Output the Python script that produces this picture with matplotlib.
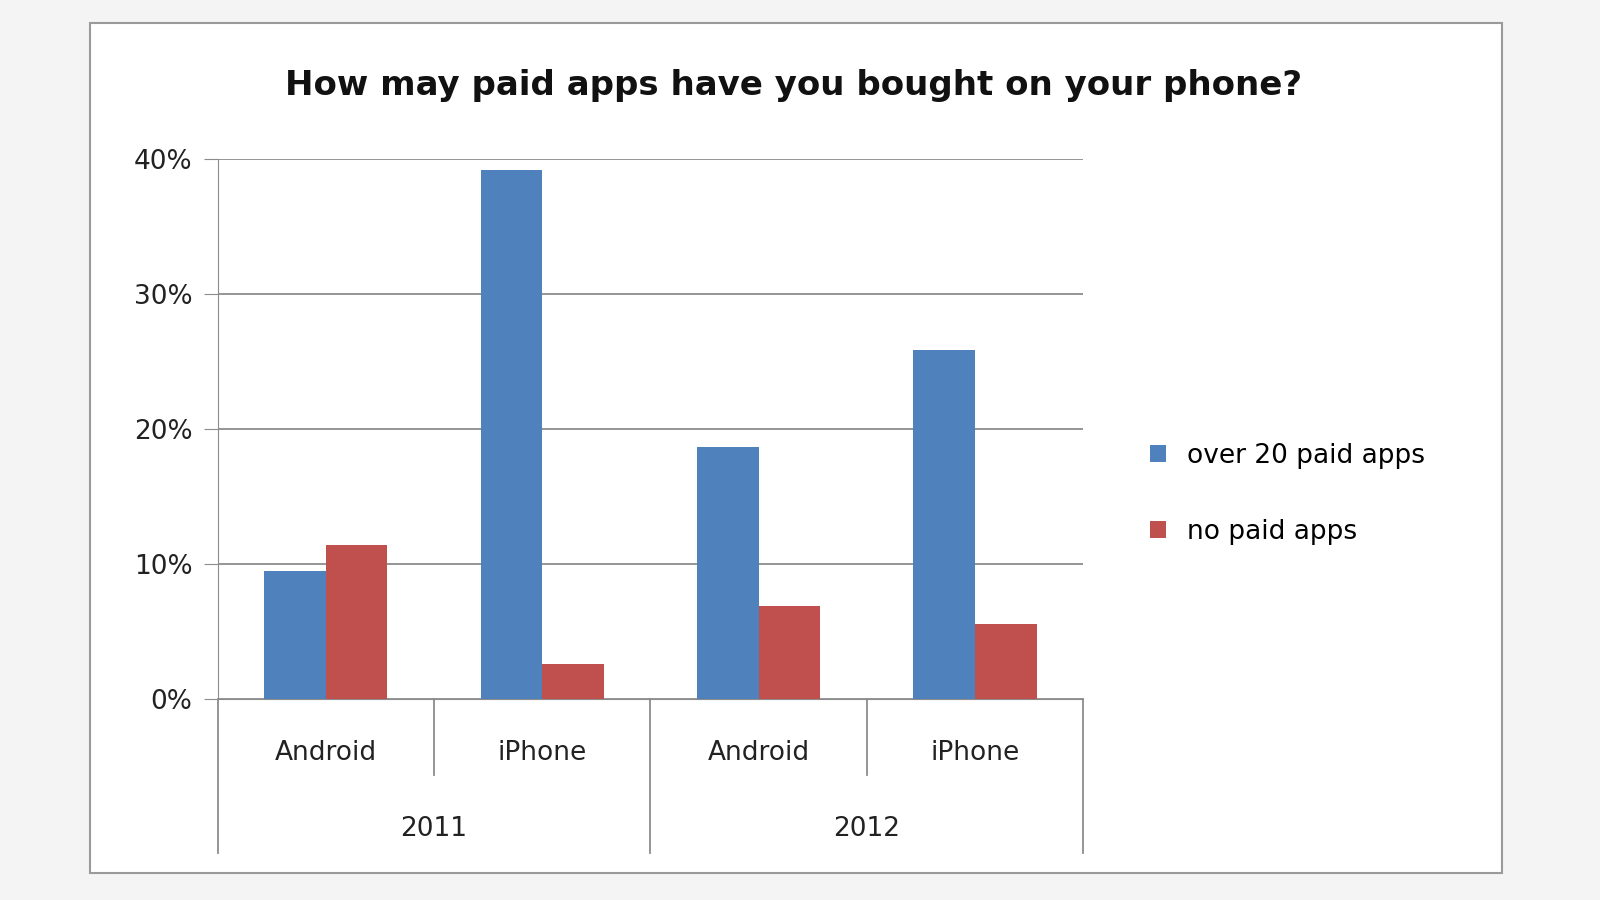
import matplotlib.pyplot as plt
from matplotlib.patches import Rectangle
import numpy as np

platforms = ['Android', 'iPhone', 'Android', 'iPhone']
years = ['2011', '2012']
over20 = [9.5, 39.2, 18.7, 25.9]
nopaid = [11.4, 2.6, 6.9, 5.6]
series_names = ['over 20 paid apps', 'no paid apps']
colors = ['#4F81BD', '#C0504D']

plt.rcParams['font.family'] = 'DejaVu Sans'
fig = plt.figure(figsize=(16, 9), dpi=100)
fig.patch.set_facecolor('#f4f4f4')

# chart box (behind the axes)
fig.add_artist(Rectangle((0.056, 0.03), 0.883, 0.945, transform=fig.transFigure,
                         facecolor='white', edgecolor='#9a9a9a', linewidth=1.5, zorder=-5))

ax = fig.add_axes([0.136, 0.223, 0.541, 0.6])
ax.patch.set_alpha(0)
x = np.arange(len(platforms))
w = 0.285
ax.bar(x - w / 2, over20, w, color=colors[0], label=series_names[0], zorder=3)
ax.bar(x + w / 2, nopaid, w, color=colors[1], label=series_names[1], zorder=3)

ax.set_xlim(-0.5, 3.5)
ax.set_ylim(0, 40)
ax.set_yticks([0, 10, 20, 30, 40])
ax.set_yticklabels([f'{v}%' for v in [0, 10, 20, 30, 40]], fontsize=19, color='#222')
ax.yaxis.grid(True, color='#8c8c8c', linewidth=1.3, zorder=0)
ax.tick_params(axis='y', length=10, color='#8c8c8c', pad=8)
ax.set_xticks([])
for s in ['top', 'right']:
    ax.spines[s].set_visible(False)
ax.spines['left'].set_color('#8c8c8c')
ax.spines['bottom'].set_color('#8c8c8c')

# two-level category axis
trans = ax.get_xaxis_transform()
for i, p in enumerate(platforms):
    ax.text(i, -0.1, p, transform=trans, ha='center', va='center', fontsize=19, color='#222')
for j, yr in enumerate(years):
    ax.text(2 * j + 0.5, -0.24, yr, transform=trans, ha='center', va='center', fontsize=19, color='#222')
for xv in [0.5, 2.5]:
    ax.plot([xv, xv], [0, -0.14], transform=trans, color='#8c8c8c', lw=1.3, clip_on=False)
for xv in [-0.5, 1.5, 3.5]:
    ax.plot([xv, xv], [0, -0.285], transform=trans, color='#8c8c8c', lw=1.3, clip_on=False)

fig.text(0.496, 0.905, 'How may paid apps have you bought on your phone?',
         ha='center', va='center', fontsize=24.5, fontweight='bold', color='#111')

ax.legend(loc='center left', bbox_to_anchor=(1.05, 0.38), frameon=False,
          fontsize=19, handlelength=0.6, handleheight=0.6, labelspacing=1.9)

plt.savefig('out.png', dpi=100, facecolor=fig.get_facecolor())
